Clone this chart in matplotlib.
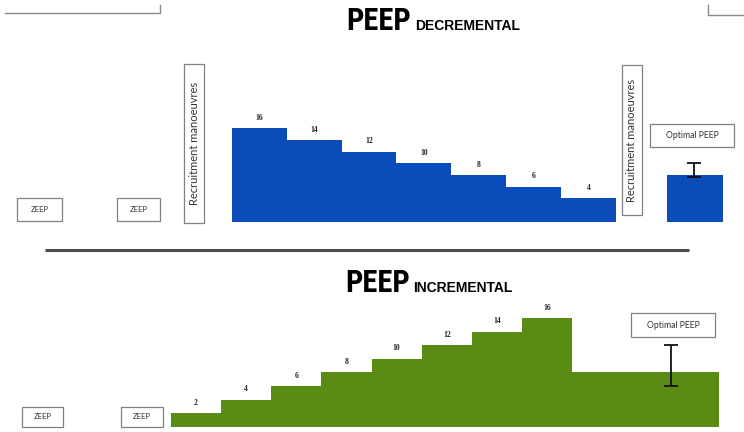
import matplotlib
matplotlib.use("Agg")
import matplotlib.pyplot as plt
from matplotlib.patches import Rectangle

# ---------------- data ----------------
dec_steps = [16, 14, 12, 10, 8, 6, 4]          # PEEP decremental steps (cmH2O)
dec_optimal = 8                                 # optimal PEEP level (decremental)
dec_optimal_range = [7.7, 10]                   # range shown by whisker
inc_steps = [2, 4, 6, 8, 10, 12, 14, 16]        # PEEP incremental steps
inc_optimal = 8                                 # plateau after incremental trial
inc_optimal_range = [6, 12]                     # range shown by whisker
title_top = ("PEEP", "DECREMENTAL")
title_bottom = ("PEEP", "INCREMENTAL")
box_zeep = "ZEEP"
box_recruit = "Recruitment manoeuvres"
box_optimal = "Optimal PEEP"

BLUE = "#0a4cba"
GREEN = "#5a8c14"
EDGE = "#808080"
TXT = "#333333"
W, H = 744, 432

fig = plt.figure(figsize=(W / 100, H / 100), dpi=100)
ov = fig.add_axes([0, 0, 1, 1])
ov.set_xlim(0, W)
ov.set_ylim(H, 0)
ov.axis("off")


def px_axes(x0, y_top, x1, y_bot):
    a = fig.add_axes([x0 / W, 1 - y_bot / H, (x1 - x0) / W, (y_bot - y_top) / H])
    a.patch.set_alpha(0)
    a.axis("off")
    return a


def box(x0, y0, x1, y1, text, fs, rot=0, family=("Lato", "DejaVu Sans")):
    ov.add_patch(Rectangle((x0, y0), x1 - x0, y1 - y0, fill=False, ec=EDGE, lw=0.9))
    ov.text((x0 + x1) / 2, (y0 + y1) / 2, text, ha="center", va="center",
            fontsize=fs, rotation=rot, color=TXT, family=list(family))


TITLE_BIG = ["Liberation Sans Narrow", "Noto Sans Condensed", "DejaVu Sans Condensed",
             "Roboto Condensed", "Liberation Sans", "DejaVu Sans"]
TITLE_SMALL = ["Liberation Sans", "DejaVu Sans"]


def title(x, y, big, small):
    t = ov.text(x, y, big, ha="left", va="baseline", fontsize=22, fontweight="bold",
                fontstretch="condensed", family=TITLE_BIG)
    ov.annotate(small, xy=(1, y), xycoords=(t, "data"), xytext=(2.5, 0),
                textcoords="offset points", ha="left", va="baseline", fontsize=10,
                fontweight="bold", family=TITLE_SMALL)


# ---------------- decorations ----------------
ov.plot([5, 160, 160], [12.7, 12.7, 5], color="#8a8a8a", lw=1.0)
ov.plot([708, 708, 744], [5, 15, 15], color="#8a8a8a", lw=1.0)
ov.plot([45, 689], [250, 250], color="#4d4d4d", lw=2.2, solid_capstyle="butt")

title(346.5, 29.5, *title_top)
title(345, 291.7, *title_bottom)

# top panel boxes
box(17.3, 198.3, 61.7, 220.7, box_zeep, 5.5)
box(117.3, 198.3, 160, 220.7, box_zeep, 5.5)
box(184, 64, 204, 223, box_recruit, 8, rot=90)
box(622, 65, 641.5, 215, box_recruit, 8, rot=90)
box(650, 124, 734, 147.3, box_optimal, 6.2)

# bottom panel boxes
box(21.7, 406.7, 63.3, 426.7, box_zeep, 5.5)
box(120.7, 406.7, 163.3, 426.7, box_zeep, 5.5)
box(631, 313, 715, 337, box_optimal, 6.2)

LBL = dict(ha="center", va="bottom", fontsize=5.5, fontweight="bold",
           family=["Liberation Serif", "DejaVu Serif"], color="#222222",
           textcoords="offset points", xytext=(0, 4.5))

# ---------------- top (decremental) ----------------
sx, sy = 54.9, 5.84
x0, yb = 231.7, 221.7
axt = px_axes(x0, yb - sy * 18, x0 + sx * 9, yb)
axt.set_xlim(0, 9)
axt.set_ylim(0, 18)
edges = list(range(len(dec_steps) + 1))
axt.stairs(dec_steps, edges, fill=True, baseline=0, color=BLUE, lw=0)
for i, v in enumerate(dec_steps):
    axt.annotate(str(v), (i + 0.5, v), **LBL)
opt_x = (666.7 - x0) / sx
axt.bar([opt_x], [dec_optimal], width=(723.3 - 666.7) / sx, align="edge",
        color=BLUE, lw=0)
lo, hi = dec_optimal_range
axt.errorbar([opt_x + 0.5], [(lo + hi) / 2], yerr=[[(hi - lo) / 2], [(hi - lo) / 2]],
             fmt="none", ecolor="#111111", elinewidth=1.3, capsize=4.8, capthick=1.3)

# ---------------- bottom (incremental) ----------------
sx2, sy2 = 50.2, 6.8
x02, yb2 = 170.7, 426.7
axb = px_axes(x02, yb2 - sy2 * 18, x02 + sx2 * 11, yb2)
axb.set_xlim(0, 11)
axb.set_ylim(0, 18)
plat_end = (719 - x02) / sx2
edges2 = list(range(len(inc_steps) + 1)) + [plat_end]
axb.stairs(inc_steps + [inc_optimal], edges2, fill=True, baseline=0, color=GREEN, lw=0)
for i, v in enumerate(inc_steps):
    axb.annotate(str(v), (i + 0.5, v), **LBL)
lo2, hi2 = inc_optimal_range
err_x = (671 - x02) / sx2
axb.errorbar([err_x], [(lo2 + hi2) / 2], yerr=[[(hi2 - lo2) / 2], [(hi2 - lo2) / 2]],
             fmt="none", ecolor="#111111", elinewidth=1.3, capsize=4.8, capthick=1.3)

fig.savefig("out.png", dpi=100)
